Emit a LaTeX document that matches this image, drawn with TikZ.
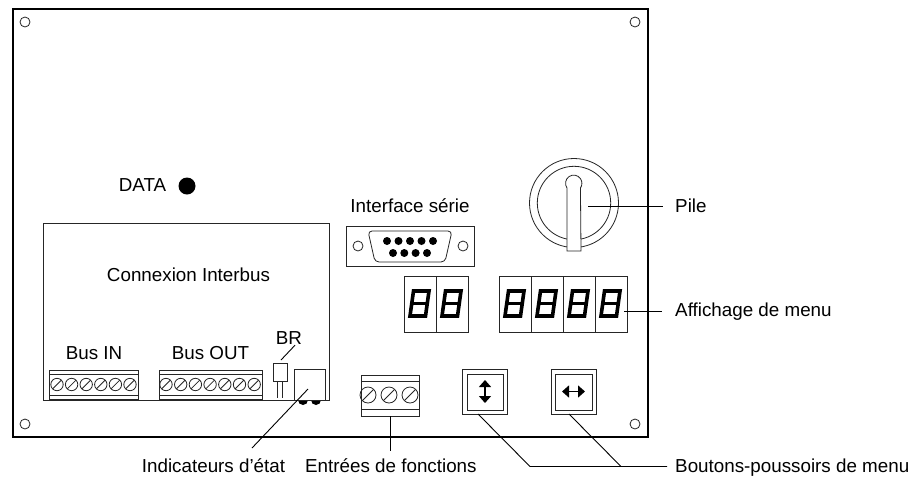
\documentclass[tikz,border=0pt]{standalone}
\usepackage{fontspec}
\setmainfont{Liberation Sans}
\usetikzlibrary{arrows.meta}
\tikzset{
  x=1pt,y=-1pt,
  thin line/.style={line width=0.8pt,draw=black!85},
  lead/.style={line width=0.9pt,draw=black},
  box/.style={thin line,fill=white,rectangle,inner sep=0pt,outer sep=0pt},
  lbl/.style={inner sep=0pt,font=\fontsize{18.8}{22}\selectfont},
  hole/.style={thin line,circle,inner sep=0pt,minimum size=10pt,fill=white},
  seg/.style={line width=3.6pt,draw=black,miter limit=10},
  dbl/.style={line width=1.4pt,{Triangle[length=7pt,width=12pt]}-{Triangle[length=7pt,width=12pt]}},
}
\newcommand{\screws}[4]{% first x, spacing, last index, y
  \foreach \i in {0,...,#3}{
    \pgfmathsetmacro{\cx}{#1+#2*\i}
    \draw[thin line] (\cx,#4) circle (6.2);
    \draw[thin line] (\cx-4.4,#4+4.4) -- (\cx+4.4,#4-4.4);
  }}
\newcommand{\digit}[1]{%
  \draw[seg] (#1+9.5,291) -- (#1+25,291) -- (#1+21.5,316) -- (#1+6,316) -- cycle;
  \draw[seg] (#1+7.8,303.5) -- (#1+23.2,303.5);}
\begin{document}
\begin{tikzpicture}
\useasboundingbox (0,0) rectangle (917,477);
\fill[white] (0,0) rectangle (917,477);
\draw[line width=2pt] (13,9) rectangle (648,437);
% corner holes
\foreach \p/\q in {25/22,635/22,25/424,635/424} \node[hole] at (\p,\q) {};
% DATA
\node[lbl,anchor=base] (data) at (142.5,191.5) {DATA};
\node[circle,fill=black,inner sep=0pt,minimum size=17pt] (led) at (187,186) {};
% Interbus board
\draw[thin line] (43,223) rectangle (329,400);
\node[lbl,anchor=base] (conn) at (188.5,281) {Connexion Interbus};
\node[lbl,anchor=base] at (94,359.5) {Bus IN};
\node[lbl,anchor=base] at (210.5,359.5) {Bus OUT};
\node[lbl,anchor=base] (br) at (289,344) {BR};
% Terminals
\draw[thin line,fill=white] (49,370) rectangle (138,399);
\draw[thin line] (49,374.5) -- (138,374.5) (49,395) -- (138,395);
\screws{57}{14.6}{5}{384.5}
\draw[thin line,fill=white] (159,370) rectangle (262,399);
\draw[thin line] (159,374.5) -- (262,374.5) (159,395) -- (262,395);
\screws{166}{14.7}{6}{384.5}
% BR resistor
\node[box,minimum width=14pt,minimum height=18pt] (res) at (280,372) {};
\draw[thin line] (277.5,381) -- (277.5,398) (282.5,381) -- (282.5,398);
\draw[lead] ([xshift=1pt,yshift=3pt]res.north) -- ([xshift=6pt,yshift=-1pt]br.south);
% Indicators
\fill (303,400) circle (5) (316,400) circle (5);
\node[box,minimum width=31pt,minimum height=31pt] (ind) at (309.5,384.5) {};
\coordinate (indl) at (308,389);
\coordinate (indt) at (252,448);
\draw[lead] (indl) -- (indt);
\node[lbl,anchor=base] (indlab) at (213.5,472) {Indicateurs d'état};
% Function terminal
\node[box,minimum width=58pt,minimum height=41pt] (fct) at (390,395.5) {};
\draw[thin line] (361,381) -- (419,381) (361,409) -- (419,409);
\foreach \cx in {368,389,410}{
  \draw[thin line] (\cx,395) circle (8);
  \draw[thin line] (\cx-5.6,400.6) -- (\cx+5.6,389.4);
}
\node[lbl,anchor=base west] (fctlab) at (305,472) {Entrées de fonctions};
\draw[lead] (fct.south) -- (390,451);
% Serial
\node[box,minimum width=128pt,minimum height=40pt] (ser) at (410,246) {};
\node[hole] at (358,246) {};
\node[hole] at (463,246) {};
\draw[thin line,rounded corners=4pt] (368,231) -- (452,231) -- (445,262) -- (375,262) -- cycle;
\foreach \cx in {387,398.5,410,421.5,433} \fill (\cx,241) circle (4);
\foreach \cx in {393,404.3,415.6,427} \fill (\cx,253) circle (4);
\node[lbl,anchor=base] (serlab) at (410,212) {Interface série};
% Displays
\foreach \a in {404,436,499,531,563,595}{
  \draw[thin line] (\a,276) rectangle (\a+32,332);
  \digit{\a}
}
\coordinate (dispr) at (624,311);
\node[lbl,anchor=base west] (menu) at (675,316) {Affichage de menu};
\draw[lead] (dispr) -- (662,311);
% Pile
\draw[thin line] (574,203) circle (44.5);
\draw[thin line] (574,203) circle (36.7);
\draw[thin line,fill=white] (567,251) -- (567,188) arc[start angle=145,end angle=395,radius=8.2] -- (581,251) -- cycle;
\coordinate (pilec) at (588,206);
\node[lbl,anchor=base west] (pile) at (675,212) {Pile};
\draw[lead] (pilec) -- (663,206);
% Buttons
\node[box,minimum width=45pt,minimum height=45pt] (b1) at (484.5,391.5) {};
\draw[thin line] (467,374) rectangle (503,410);
\draw[dbl] (485,380) -- (485,403);
\node[box,minimum width=45pt,minimum height=45pt] (b2) at (573.5,391.5) {};
\draw[thin line] (555.5,374) rectangle (592,410);
\draw[dbl] (562,391.5) -- (585,391.5);
\node[lbl,anchor=base west] (bout) at (675,472) {Boutons-poussoirs de menu};
\coordinate (end) at (667,466.5);
\draw[lead] (478,414) -- (530,466.5) -- (end);
\draw[lead] (569,414) -- (621,466.5);
\end{tikzpicture}
\end{document}
